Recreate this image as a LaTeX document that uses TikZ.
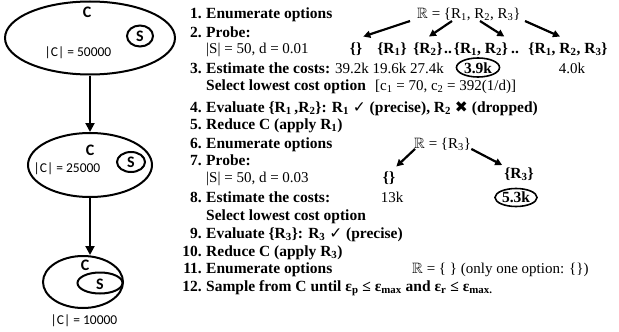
\documentclass[tikz,border=0pt]{standalone}
\usepackage{amssymb}
\usepackage{fontspec}
\setmainfont{Liberation Serif}
\setsansfont{Carlito}
\newfontfamily\symfont{DejaVu Sans}
\usetikzlibrary{arrows.meta, shapes.geometric}

\newcommand{\sx}[1]{\textsubscript{#1}}
\newcommand{\txt}{\fontsize{15}{17}\selectfont}
\newcommand{\btxt}{\fontsize{15.5}{18}\selectfont\bfseries}

\begin{document}
\begin{tikzpicture}[x=1pt, y=-1pt,
    every node/.style={inner sep=0pt, font=\txt},
    num/.style={anchor=base east, font=\btxt},
    item/.style={anchor=base west, font=\btxt},
    plain/.style={anchor=base west},
    opt/.style={anchor=base, font=\btxt},
    coll/.style={ellipse, draw, line width=2pt},
    best/.style={ellipse, draw, line width=1.6pt},
    clab/.style={font=\sffamily\bfseries\fontsize{16}{16}\selectfont},
    size/.style={font=\sffamily\fontsize{13.5}{14}\selectfont},
    flow/.style={-{Triangle[length=9pt, width=9pt]}, line width=2pt},
    pick/.style={-{Triangle[length=7pt, width=7pt]}, line width=2.2pt}
  ]
  \useasboundingbox (0,0) rectangle (619,332);

  % collections, left column
  \node[coll, minimum width=170pt, minimum height=73pt] (c1) at (90,38) {};
  \node[clab] (c1t) at (87,12) {C};
  \node[coll, minimum width=26pt, minimum height=21pt] (s1) at (140,36) {};
  \node[clab] (s1t) at (140,36) {S};
  \node[size] (c1n) at (78,53) {|C| = 50000};

  \node[coll, minimum width=124pt, minimum height=64pt] (c2) at (90,165) {};
  \node[clab] (c2t) at (90,150) {C};
  \node[coll, minimum width=28pt, minimum height=20pt] (s2) at (131,162) {};
  \node[clab] (s2t) at (131,162) {S};
  \node[size] (c2n) at (67,169) {|C| = 25000};

  \node[coll, minimum width=80pt, minimum height=52pt] (c3) at (83,282) {};
  \node[clab] (c3t) at (85,265) {C};
  \node[coll, minimum width=45pt, minimum height=21pt] (s3) at (100,283) {};
  \node[clab] (s3t) at (100,284) {S};
  \node[size] (c3n) at (84,321) {|C| = 10000};

  \draw[flow] (c1.south) -- (c2.north);
  \draw[flow] (c2.south) -- (c2.south |- c3.north);

  % numbered steps
  \foreach \n/\y in {1/18.5, 2/37.5, 3/73, 4/112.5, 5/129.5, 6/148.5,
                     7/165.5, 8/202.5, 9/238.5, 10/256.5, 11/273.5, 12/291.5}
    \node[num] (n\n) at (202,\y) {\n.};

  \node[item] (t1) at (206,18.5) {Enumerate options};
  \node[item] (t2) at (206,37.5) {Probe:};
  \node[plain] (p1) at (206,53.5) {\textbar S\textbar{} = 50, d = 0.01};
  \node[item] (t3) at (206,73) {Estimate the costs:};
  \node[plain] (k123) at (335,73) {39.2k 19.6k 27.4k};
  \node[item] (t3b) at (206,90.5) {Select lowest cost option};
  \node[plain] (cc) at (375,90.5) {[c\sx1 = 70, c\sx2 = 392(1/d)]};
  \node[item] (t4) at (206,112.5) {Evaluate \{R\sx1\,,R\sx2\}: R\sx1 {\symfont\mdseries ✓} (precise), R\sx2 {\symfont ✖} (dropped)};
  \node[item] (t5) at (206,129.5) {Reduce C (apply R\sx1)};
  \node[item] (t6) at (206,148.5) {Enumerate options};
  \node[item] (t7) at (206,165.5) {Probe:};
  \node[plain] (p2) at (206,182.5) {\textbar S\textbar{} = 50, d = 0.03};
  \node[item] (t8) at (206,202.5) {Estimate the costs:};
  \node[item] (t8b) at (206,220) {Select lowest cost option};
  \node[item] (t9) at (206,238.5) {Evaluate \{R\sx3\}: R\sx3 {\symfont\mdseries ✓} (precise)};
  \node[item] (t10) at (206,256.5) {Reduce C (apply R\sx3)};
  \node[item] (t11) at (206,273.5) {Enumerate options};
  \node[item] (t12) at (206,291.5) {Sample from C until ε\sx{p} ≤ ε\sx{max} and ε\sx{r} ≤ ε\sx{max.}};

  % first set of options
  \node[plain] (r1) at (417,18.5) {$\mathbb{R}$ = \{R\sx1, R\sx2, R\sx3\}};
  \node[opt] (o0) at (356,53.5) {\{\}};
  \node[opt] (o1) at (392,53.5) {\{R\sx1\}};
  \node[opt] (o2) at (428,53.5) {\{R\sx2\}};
  \node[opt] (d1) at (448,53.5) {..};
  \node[opt] (o12) at (481,53.5) {\{R\sx1, R\sx2\}};
  \node[opt] (d2) at (515,53.5) {..};
  \node[opt] (o123) at (568,53.5) {\{R\sx1, R\sx2, R\sx3\}};
  \node[best, minimum width=43pt, minimum height=19pt] (b1) at (478,67.5) {};
  \node[opt] (b1t) at (478,73) {3.9k};
  \node[anchor=base] (k4) at (572,73) {4.0k};

  \draw[pick] ([xshift=-7pt]r1.south west) -- ([xshift=1pt, yshift=6pt]o0.north east);
  \draw[pick] ([xshift=35pt]r1.south west) -- ([xshift=1pt, yshift=6pt]o2.north);
  \draw[pick] ([xshift=63pt]r1.south west) -- ([xshift=-4pt, yshift=6pt]o12.north east);
  \draw[pick] ([xshift=108pt]r1.south west) -- ([xshift=-8pt, yshift=6pt]o123.north);

  % second set of options
  \node[plain] (r2) at (414,148.5) {$\mathbb{R}$ = \{R\sx3\}};
  \node[opt] (q0) at (389,182.5) {\{\}};
  \node[opt] (q3) at (519,178) {\{R\sx3\}};
  \node[anchor=base] (k13) at (392,202.5) {13k};
  \node[best, minimum width=42pt, minimum height=18pt] (b2) at (516,197.5) {};
  \node[opt] (b2t) at (516,202.5) {5.3k};

  \draw[pick] ([xshift=1pt, yshift=2pt]r2.south west) -- ([xshift=1pt, yshift=5pt]q0.north east);
  \draw[pick] ([yshift=2pt]r2.south east) -- ([xshift=-2pt, yshift=2pt]q3.north west);

  \node[plain] (r3) at (412,273.5) {$\mathbb{R}$ = \{ \} (only one option: \{\})};
\end{tikzpicture}
\end{document}
